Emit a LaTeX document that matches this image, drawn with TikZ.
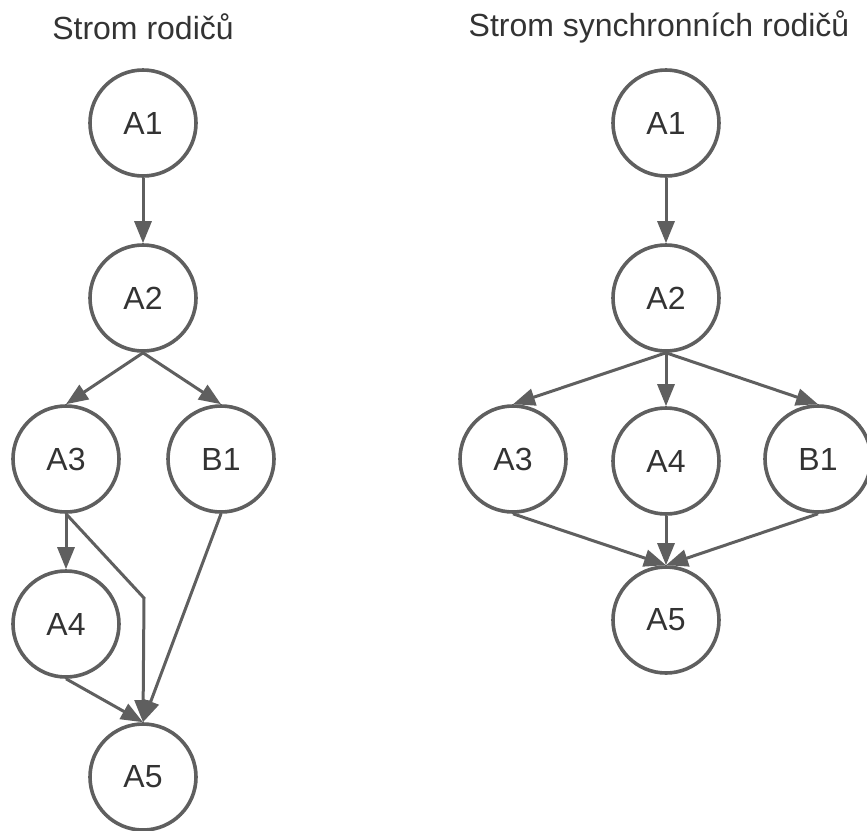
\documentclass[tikz,border=0pt]{standalone}
\usepackage{fontspec}
\setmainfont{Liberation Sans}
\usepackage{xcolor}
\usepackage{tikz}
\usetikzlibrary{arrows.meta}
\definecolor{edgegray}{RGB}{95, 95, 95}
\definecolor{textgray}{RGB}{51, 51, 51}

\begin{document}
\begin{tikzpicture}[x=1pt, y=-1pt,
  vertex/.style={circle, draw=edgegray, line width=3.6pt, minimum size=106pt,
    inner sep=0pt, text=textgray, font=\fontsize{32}{38}\selectfont},
  heading/.style={text=textgray, font=\fontsize{32}{38}\selectfont},
  edge/.style={draw=edgegray, line width=3pt,
    -{Triangle[length=22pt, width=17pt]}}]
\useasboundingbox (0,0) rectangle (867,830);

% Left tree
\node[heading] (tl) at (143,27) {Strom rodičů};
\node[vertex] (la1) at (143,123) {A1};
\node[vertex] (la2) at (143,298) {A2};
\node[vertex] (la3) at (66,459) {A3};
\node[vertex] (lb1) at (221,459) {B1};
\node[vertex] (la4) at (66,624) {A4};
\node[vertex] (la5) at (143,777) {A5};
\coordinate (lbend) at (144,598);

\draw[edge] (la1.south) -- (la2.north);
\draw[edge] (la2.south) -- (la3.north);
\draw[edge] (la2.south) -- (lb1.north);
\draw[edge] (la3.south) -- (la4.north);
\draw[edge] (la3.south) -- (lbend) -- (la5.north);
\draw[edge] (lb1.south) -- (la5.north);
\draw[edge] (la4.south) -- (la5.north);

% Right tree
\node[heading] (tr) at (659,27) {Strom synchronních rodičů};
\node[vertex] (ra1) at (666,123) {A1};
\node[vertex] (ra2) at (666,298) {A2};
\node[vertex] (ra3) at (513,459) {A3};
\node[vertex] (ra4) at (666,461) {A4};
\node[vertex] (rb1) at (818,459) {B1};
\node[vertex] (ra5) at (666,620) {A5};

\draw[edge] (ra1.south) -- (ra2.north);
\draw[edge] (ra2.south) -- (ra3.north);
\draw[edge] (ra2.south) -- (ra4.north);
\draw[edge] (ra2.south) -- (rb1.north);
\draw[edge] (ra3.south) -- (ra5.north);
\draw[edge] (ra4.south) -- (ra5.north);
\draw[edge] (rb1.south) -- (ra5.north);
\end{tikzpicture}
\end{document}
